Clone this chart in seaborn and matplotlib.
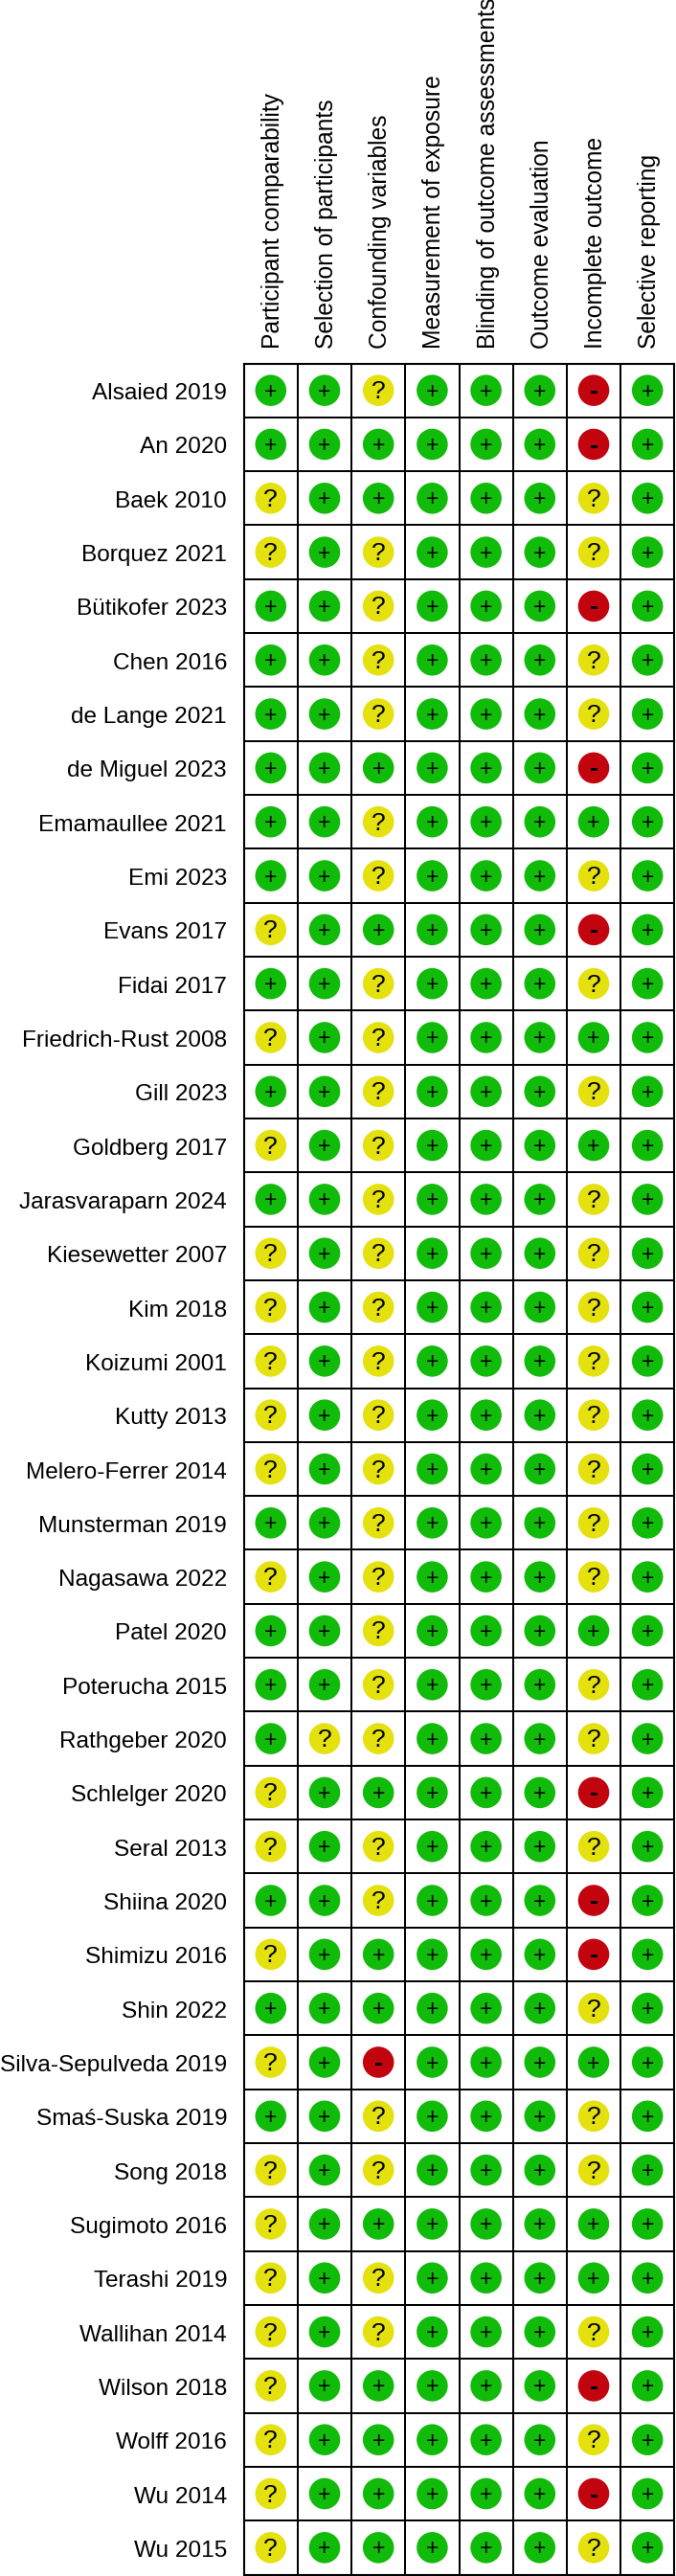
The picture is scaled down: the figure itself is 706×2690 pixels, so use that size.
import matplotlib
matplotlib.use('Agg')
import matplotlib.pyplot as plt
from matplotlib.colors import ListedColormap
from matplotlib.transforms import ScaledTranslation
import seaborn as sns
import pandas as pd
import numpy as np

studies = ['Alsaied 2019', 'An 2020', 'Baek 2010', 'Borquez 2021', 'Bütikofer 2023', 'Chen 2016',
           'de Lange 2021', 'de Miguel 2023', 'Emamaullee 2021', 'Emi 2023', 'Evans 2017', 'Fidai 2017',
           'Friedrich-Rust 2008', 'Gill 2023', 'Goldberg 2017', 'Jarasvaraparn 2024', 'Kiesewetter 2007',
           'Kim 2018', 'Koizumi 2001', 'Kutty 2013', 'Melero-Ferrer 2014', 'Munsterman 2019', 'Nagasawa 2022',
           'Patel 2020', 'Poterucha 2015', 'Rathgeber 2020', 'Schlelger 2020', 'Seral 2013', 'Shiina 2020',
           'Shimizu 2016', 'Shin 2022', 'Silva-Sepulveda 2019', 'Smaś-Suska 2019', 'Song 2018', 'Sugimoto 2016',
           'Terashi 2019', 'Wallihan 2014', 'Wilson 2018', 'Wolff 2016', 'Wu 2014', 'Wu 2015']

domains = ['Participant comparability', 'Selection of participants', 'Confounding variables',
           'Measurement of exposure', 'Blinding of outcome assessments', 'Outcome evaluation',
           'Incomplete outcome', 'Selective reporting']

# one character per study, same order as studies
participant = list('++??++++++' '?+?+?+????' '?+?+++??+?' '+?+????????')
selection = list('++++++++++' '++++++++++' '+++++?++++' '+++++++++++')
confounding = list('?++????+??' '+?????????' '??????+??+' '+-??+??++++')
exposure = list('++++++++++' '++++++++++' '++++++++++' '+++++++++++')
blinding = list('++++++++++' '++++++++++' '++++++++++' '+++++++++++')
evaluation = list('++++++++++' '++++++++++' '++++++++++' '+++++++++++')
incomplete = list('--??-??-+?' '-?+?+?????' '???+??-?--' '?+??++?-?-?')
reporting = list('++++++++++' '++++++++++' '++++++++++' '+++++++++++')

rating_colors = {'+': '#10BB0A', '?': '#E4E10E', '-': '#C2040F'}
symbol_size = {'+': 16.5, '?': 19, '-': 19}
symbol_weight = {'+': 'normal', '?': 'normal', '-': 'bold'}

ratings = pd.DataFrame(dict(zip(domains, [participant, selection, confounding, exposure,
                                          blinding, evaluation, incomplete, reporting])), index=studies)

sns.set_theme(style='white')
plt.rcParams['font.family'] = ['Liberation Sans', 'DejaVu Sans']

fig = plt.figure(figsize=(7.06, 26.90), dpi=100)
ax = fig.add_axes([254.7 / 706, 1 - 2688.5 / 2690, 449.6 / 706, 2309 / 2690])

# the grid is a blank heatmap, circles go on top of it
blank = pd.DataFrame(0, index=studies, columns=domains)
sns.heatmap(blank, ax=ax, cmap=ListedColormap(['white']), cbar=False, linewidths=1.25, linecolor='black',
            xticklabels=domains, yticklabels=studies, square=False)

long_data = ratings.reset_index(names='study').melt(id_vars='study', var_name='domain', value_name='rating')
long_data['x'] = long_data['domain'].map({d: i + 0.5 for i, d in enumerate(domains)})
long_data['y'] = long_data['study'].map({s: i + 0.5 for i, s in enumerate(studies)})

sns.scatterplot(data=long_data, x='x', y='y', hue='rating', palette=rating_colors, s=550, linewidth=0,
                legend=False, ax=ax, zorder=3, clip_on=False)

for _, row in long_data.iterrows():
    ax.annotate(row['rating'], (row['x'], row['y']), xytext=(0, 0.7), textcoords='offset points',
                ha='center', va='center_baseline', color='black', zorder=4,
                fontsize=symbol_size[row['rating']], fontweight=symbol_weight[row['rating']])

ax.set_xlim(0, len(domains))
ax.set_ylim(len(studies), 0)
ax.set_xlabel('')
ax.set_ylabel('')

ax.xaxis.tick_top()
ax.tick_params(axis='x', length=0, pad=10.8, labelsize=17.7, labelrotation=90, colors='black')
ax.tick_params(axis='y', length=0, pad=12.7, labelsize=17.6, labelrotation=0, colors='black')

# nudge labels a little to sit where the original has them
for label in ax.get_xticklabels():
    label.set_transform(label.get_transform() + ScaledTranslation(2 / 100, 0, fig.dpi_scale_trans))
for label in ax.get_yticklabels():
    label.set_transform(label.get_transform() + ScaledTranslation(0, -3.5 / 100, fig.dpi_scale_trans))

for spine in ax.spines.values():
    spine.set_visible(True)
    spine.set_color('black')
    spine.set_linewidth(1.5)

fig.savefig('out.png', dpi=100)
